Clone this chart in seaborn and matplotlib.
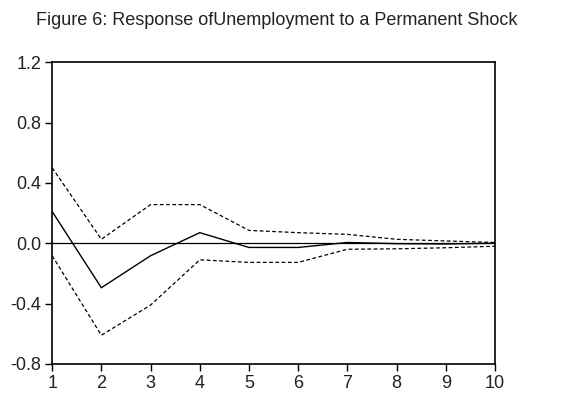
import numpy as np
import matplotlib as mpl
mpl.use('Agg')
import matplotlib.pyplot as plt
import pandas as pd
import seaborn as sns

periods = [1, 2, 3, 4, 5, 6, 7, 8, 9, 10]
response = [0.21, -0.295, -0.083, 0.07, -0.028, -0.028, 0.005, -0.003, -0.005, 0.0]
upper = [0.50, 0.026, 0.256, 0.256, 0.085, 0.07, 0.059, 0.026, 0.015, 0.005]
lower = [-0.083, -0.61, -0.41, -0.11, -0.127, -0.127, -0.04, -0.037, -0.03, -0.02]

df = pd.DataFrame({'period': periods, 'response': response,
                   'upper': upper, 'lower': lower})

sns.set_style('ticks')
plt.rcParams['font.family'] = ['Liberation Sans', 'DejaVu Sans']

fig = plt.figure(figsize=(5.67, 3.96), dpi=100)
ax = fig.add_axes([0.092, 0.081, 0.781, 0.762])

ax.axhline(0, color='black', lw=0.9)
sns.lineplot(x='period', y='response', data=df, ax=ax, color='black', lw=1.0)
sns.lineplot(x='period', y='upper', data=df, ax=ax, color='black', lw=0.9,
             linestyle=(0, (3, 2)))
sns.lineplot(x='period', y='lower', data=df, ax=ax, color='black', lw=0.9,
             linestyle=(0, (3, 2)))

ax.set_xlim(1, 10)
ax.set_ylim(-0.8, 1.2)
ax.set_xticks(periods)
ax.set_yticks([-0.8, -0.4, 0.0, 0.4, 0.8, 1.2])
ax.set_yticklabels(['-0.8', '-0.4', '0.0', '0.4', '0.8', '1.2'])
ax.set_xlabel('')
ax.set_ylabel('')
ax.tick_params(labelsize=13, length=5, width=1, pad=3, color='black',
               labelcolor='#222222')
for s in ax.spines.values():
    s.set_linewidth(1.2)
    s.set_color('black')

fig.text(0.488, 0.949, 'Figure 6: Response ofUnemployment to a Permanent Shock',
         ha='center', va='center', fontsize=13, color='#222222')

fig.savefig('out.png', dpi=100)
